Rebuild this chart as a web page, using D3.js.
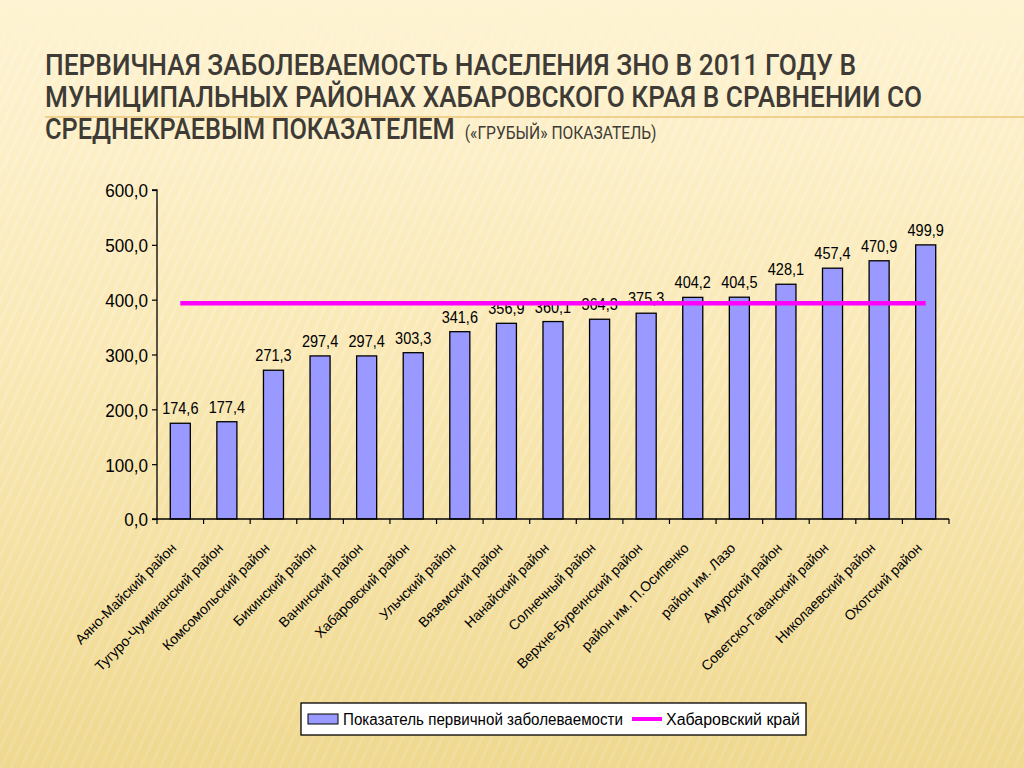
<!DOCTYPE html>
<html><head><meta charset="utf-8">
<script src="https://cdn.jsdelivr.net/npm/d3@7"></script>
<style>
html,body{margin:0;padding:0;width:1024px;height:768px;overflow:hidden;}
svg{display:block;}
</style></head>
<body>
<svg id="c" width="1024" height="768"></svg>
<script>
const categories = ["Аяно-Майский район","Тугуро-Чумиканский район","Комсомольский район","Бикинский район","Ванинский район","Хабаровский район","Ульчский район","Вяземский район","Нанайский район","Солнечный район","Верхне-Буреинский район","район им. П.Осипенко","район им. Лазо","Амурский район","Советско-Гаванский район","Николаевский район","Охотский район"];
const values = [174.6,177.4,271.3,297.4,297.4,303.3,341.6,356.9,360.1,364.3,375.3,404.2,404.5,428.1,457.4,470.9,499.9];
const regionAverage = 393.4;
const yTicks = [0,100,200,300,400,500,600];
const titleLines = ["ПЕРВИЧНАЯ ЗАБОЛЕВАЕМОСТЬ НАСЕЛЕНИЯ ЗНО В 2011 ГОДУ В","МУНИЦИПАЛЬНЫХ РАЙОНАХ ХАБАРОВСКОГО КРАЯ В СРАВНЕНИИ СО","СРЕДНЕКРАЕВЫМ ПОКАЗАТЕЛЕМ"];
const titleSuffix = "(«ГРУБЫЙ» ПОКАЗАТЕЛЬ)";
const legendLabels = ["Показатель первичной заболеваемости","Хабаровский край"];

const svg = d3.select("#c");
const defs = svg.append("defs");
const bg = defs.append("linearGradient").attr("id","bg").attr("x1",0).attr("y1",0).attr("x2",0).attr("y2",1);
bg.append("stop").attr("offset","0%").attr("stop-color","#FEF3D2");
bg.append("stop").attr("offset","45%").attr("stop-color","#FAE9B6");
bg.append("stop").attr("offset","100%").attr("stop-color","#EFD88F");
svg.append("rect").attr("width",1024).attr("height",768).attr("fill","url(#bg)");
// subtle diagonal stripes
const pat = defs.append("pattern").attr("id","stripes").attr("width",9).attr("height",9)
  .attr("patternUnits","userSpaceOnUse").attr("patternTransform","rotate(25)");
pat.append("rect").attr("width",3).attr("height",9).attr("fill","#ffffff").attr("opacity",0.2);
const fade = defs.append("linearGradient").attr("id","fade").attr("x1",0).attr("y1",0).attr("x2",0).attr("y2",1);
fade.append("stop").attr("offset","0%").attr("stop-color","#fff").attr("stop-opacity",0);
fade.append("stop").attr("offset","8%").attr("stop-color","#fff").attr("stop-opacity",1);
fade.append("stop").attr("offset","100%").attr("stop-color","#fff").attr("stop-opacity",0.6);
const mask = defs.append("mask").attr("id","m");
mask.append("rect").attr("width",1024).attr("height",768).attr("fill","url(#fade)");
svg.append("rect").attr("width",1024).attr("height",768).attr("fill","url(#stripes)").attr("mask","url(#m)");

// title
svg.append("line").attr("x1",45).attr("x2",1024).attr("y1",117).attr("y2",117)
  .attr("stroke","#E9B865").attr("stroke-width",1.5).attr("opacity",0.8);
const tFont = "Roboto,'Liberation Sans',sans-serif";
const title = svg.append("g").attr("fill","#3E3B36").attr("font-family",tFont).attr("font-weight",500);
const titleWidths = [811, 877];
const titleY = [75, 107, 139];
titleLines.slice(0,2).forEach((t,i)=>{
  title.append("text").attr("x",45).attr("y",titleY[i])
    .attr("font-size",29).attr("textLength",titleWidths[i]).attr("lengthAdjust","spacingAndGlyphs").text(t);
});
// third line + suffix as one text element, horizontally scaled to fit
const t3 = title.append("text");
const ts1 = t3.append("tspan").attr("font-size",29).text(titleLines[2]);
const ts2 = t3.append("tspan").attr("font-size",15.5).attr("font-weight",400).text(titleSuffix);
const L3 = ts1.node().getComputedTextLength();
const s3 = 410 / L3;
const L4 = ts2.node().getComputedTextLength();
ts2.attr("font-size", 15.5 * 192 / (L4 * s3)).attr("dx", 10 / s3);
t3.attr("transform",`translate(45,${titleY[2]}) scale(${s3},1)`);

// chart
const x0 = 157, x1 = 949, yTop = 190, yBot = 519;
const x = d3.scaleBand().domain(categories).range([x0,x1]).paddingInner(0.57).paddingOuter(0.285);
const xb = d3.scaleBand().domain(categories).range([x0,x1]);
const y = d3.scaleLinear().domain([0,600]).range([yBot,yTop]);
const font = "'Liberation Sans',Arial,sans-serif";
const fmt = d=>d3.format(".1f")(d).replace(".",",");

const g = svg.append("g").attr("font-family",font);

// bars
g.selectAll("rect.bar").data(values).join("rect").attr("class","bar")
  .attr("x",(d,i)=>x(categories[i])).attr("width",x.bandwidth())
  .attr("y",d=>y(d)).attr("height",d=>y(0)-y(d))
  .attr("fill","#9999FF").attr("stroke","#000").attr("stroke-width",1.3);

// y axis
const ya = g.append("g").attr("transform",`translate(${x0},0)`)
  .call(d3.axisLeft(y).tickValues(yTicks).tickSize(5).tickFormat(fmt));
ya.select(".domain").attr("stroke","#000").attr("stroke-width",1.3).attr("d",`M-5,${yTop}H0V${yBot}H-5`);
ya.selectAll(".tick line").attr("stroke","#000").attr("stroke-width",1.2);
ya.selectAll(".tick text").attr("font-size",19).attr("fill","#000").attr("font-family",font)
  .attr("x",0).attr("dy","0.36em").attr("transform","translate(-9,0) scale(0.9,1)");

// x axis
const xa = g.append("g").attr("transform",`translate(0,${yBot})`);
xa.append("line").attr("x1",x0).attr("x2",x1).attr("stroke","#000").attr("stroke-width",1.3);
const bounds = categories.map(c=>xb(c)).concat([x1]);
xa.selectAll("line.tk").data(bounds).join("line").attr("class","tk")
  .attr("x1",d=>d).attr("x2",d=>d).attr("y1",0).attr("y2",5).attr("stroke","#000").attr("stroke-width",1.2);
xa.selectAll("text").data(categories).join("text")
  .attr("transform",c=>`translate(${xb(c)+xb.bandwidth()/2-3},${30}) rotate(-45)`)
  .attr("text-anchor","end").attr("font-size",14).attr("fill","#000").text(c=>c);

// data labels
g.selectAll("text.lbl").data(values).join("text").attr("class","lbl")
  .attr("transform",(d,i)=>`translate(${xb(categories[i])+xb.bandwidth()/2},${y(d)-9}) scale(0.88,1)`)
  .attr("text-anchor","middle").attr("font-size",16.5).attr("fill","#000")
  .text(fmt);

// average line
const cx = c=>xb(c)+xb.bandwidth()/2;
g.append("line").attr("x1",cx(categories[0])).attr("x2",cx(categories[categories.length-1]))
  .attr("y1",y(regionAverage)).attr("y2",y(regionAverage))
  .attr("stroke","#FF00FF").attr("stroke-width",4.5);

// legend
const lg = g.append("g").attr("transform","translate(301,703)");
lg.append("rect").attr("width",505).attr("height",32).attr("fill","#fff").attr("stroke","#000").attr("stroke-width",1.3);
lg.append("rect").attr("x",7).attr("y",11).attr("width",30).attr("height",10).attr("fill","#9999FF").attr("stroke","#000").attr("stroke-width",1);
lg.append("text").attr("x",42).attr("y",22).attr("font-size",16).attr("textLength",280).attr("lengthAdjust","spacingAndGlyphs").attr("fill","#000").text(legendLabels[0]);
lg.append("line").attr("x1",331).attr("x2",361).attr("y1",16).attr("y2",16).attr("stroke","#FF00FF").attr("stroke-width",4);
lg.append("text").attr("x",365).attr("y",22).attr("font-size",16).attr("textLength",134).attr("lengthAdjust","spacingAndGlyphs").attr("fill","#000").text(legendLabels[1]);
</script>
</body></html>
